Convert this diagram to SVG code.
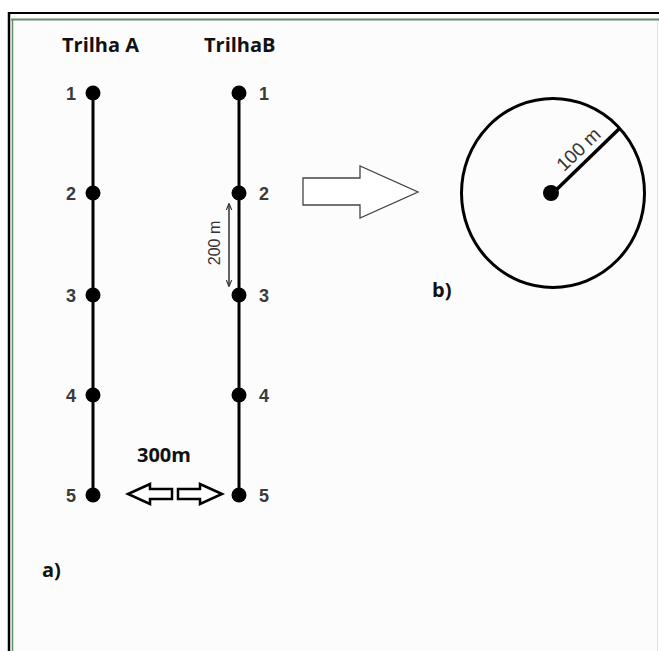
<svg xmlns="http://www.w3.org/2000/svg" width="659" height="651" viewBox="0 0 659 651">
<style>
.title{font-family:"Open Sans","Liberation Sans",sans-serif;font-weight:bold;font-size:20px;fill:#111}
.num{font-family:"Liberation Sans",Arial,sans-serif;font-weight:bold;font-size:18px;fill:#3a3a3a}
.dim{font-family:"Liberation Sans",Arial,sans-serif;font-size:16px;fill:#333}
.dim100{font-family:"Liberation Sans",Arial,sans-serif;font-size:19px;fill:#333}
.trail{stroke:#000;stroke-width:3;fill:none}
.dot{fill:#000}
.hollow{fill:#fff;stroke:#000;stroke-width:2.5}
</style>
<defs>
<marker id="ah" viewBox="0 0 10 10" refX="9" refY="5" markerWidth="7" markerHeight="7" orient="auto-start-reverse" markerUnits="userSpaceOnUse">
<path d="M0,1 L10,5 L0,9" fill="none" stroke="#333" stroke-width="1.6"/>
</marker>
</defs>
<rect x="0" y="0" width="659" height="651" fill="#fff"/>
<rect x="10" y="14" width="649" height="637" fill="#fcfcfc"/>
<line x1="8" y1="13" x2="659" y2="13" stroke="#000" stroke-width="2"/>
<line x1="9" y1="12" x2="9" y2="651" stroke="#000" stroke-width="2.5"/>
<line x1="11" y1="19.5" x2="659" y2="19.5" stroke="#5f8f66" stroke-width="2"/>
<line x1="12.5" y1="19" x2="12.5" y2="651" stroke="#5f8f66" stroke-width="1.5"/>
<line x1="657.5" y1="21" x2="657.5" y2="651" stroke="#e4e4e4" stroke-width="1"/>

<g id="connectors">
<line class="trail" x1="93" y1="93" x2="93" y2="495"/>
<line class="trail" x1="239" y1="93" x2="239" y2="495"/>
<line x1="229" y1="204" x2="229" y2="286" stroke="#333" stroke-width="1.5" marker-start="url(#ah)" marker-end="url(#ah)"/>
<line x1="553" y1="193" x2="620" y2="128" stroke="#000" stroke-width="3.5"/>
</g>

<g id="title-a"><text class="title" x="62" y="52">Trilha A</text></g>
<g id="title-b"><text class="title" x="204" y="52">TrilhaB</text></g>

<g id="A1"><circle class="dot" cx="93" cy="93" r="7.5"/><text class="num" x="76" y="100" text-anchor="end">1</text></g>
<g id="A2"><circle class="dot" cx="93" cy="193" r="7.5"/><text class="num" x="76" y="200" text-anchor="end">2</text></g>
<g id="A3"><circle class="dot" cx="93" cy="295" r="7.5"/><text class="num" x="76" y="302" text-anchor="end">3</text></g>
<g id="A4"><circle class="dot" cx="93" cy="395" r="7.5"/><text class="num" x="76" y="402" text-anchor="end">4</text></g>
<g id="A5"><circle class="dot" cx="93" cy="495" r="7.5"/><text class="num" x="76" y="502" text-anchor="end">5</text></g>

<g id="B1"><circle class="dot" cx="239" cy="93" r="7.5"/><text class="num" x="259" y="100">1</text></g>
<g id="B2"><circle class="dot" cx="239" cy="193" r="7.5"/><text class="num" x="259" y="200">2</text></g>
<g id="B3"><circle class="dot" cx="239" cy="295" r="7.5"/><text class="num" x="259" y="302">3</text></g>
<g id="B4"><circle class="dot" cx="239" cy="395" r="7.5"/><text class="num" x="259" y="402">4</text></g>
<g id="B5"><circle class="dot" cx="239" cy="495" r="7.5"/><text class="num" x="259" y="502">5</text></g>

<g id="dim200"><text class="dim" transform="translate(220,243) rotate(-90)" text-anchor="middle">200 m</text></g>

<g id="big-arrow"><polygon points="303,178 360,178 360,166 418,192 360,218 360,205 303,205" fill="#fff" stroke="#444" stroke-width="1.3"/></g>

<g id="circle-b">
<ellipse cx="553" cy="193" rx="91.5" ry="94.5" fill="none" stroke="#000" stroke-width="3"/>
<circle class="dot" cx="551" cy="193" r="8"/>
<text class="dim100" transform="translate(583,154) rotate(-44)" text-anchor="middle">100 m</text>
</g>
<g id="label-b"><text class="title" x="432" y="297">b)</text></g>

<g id="dist300">
<text class="title" x="137" y="462">300m</text>
<polygon points="128,494 150,484 150,489 172,489 172,499 150,499 150,504" class="hollow"/>
<polygon points="222,494 200,484 200,489 178,489 178,499 200,499 200,504" class="hollow"/>
</g>
<g id="label-a"><text class="title" x="42" y="577">a)</text></g>
</svg>
